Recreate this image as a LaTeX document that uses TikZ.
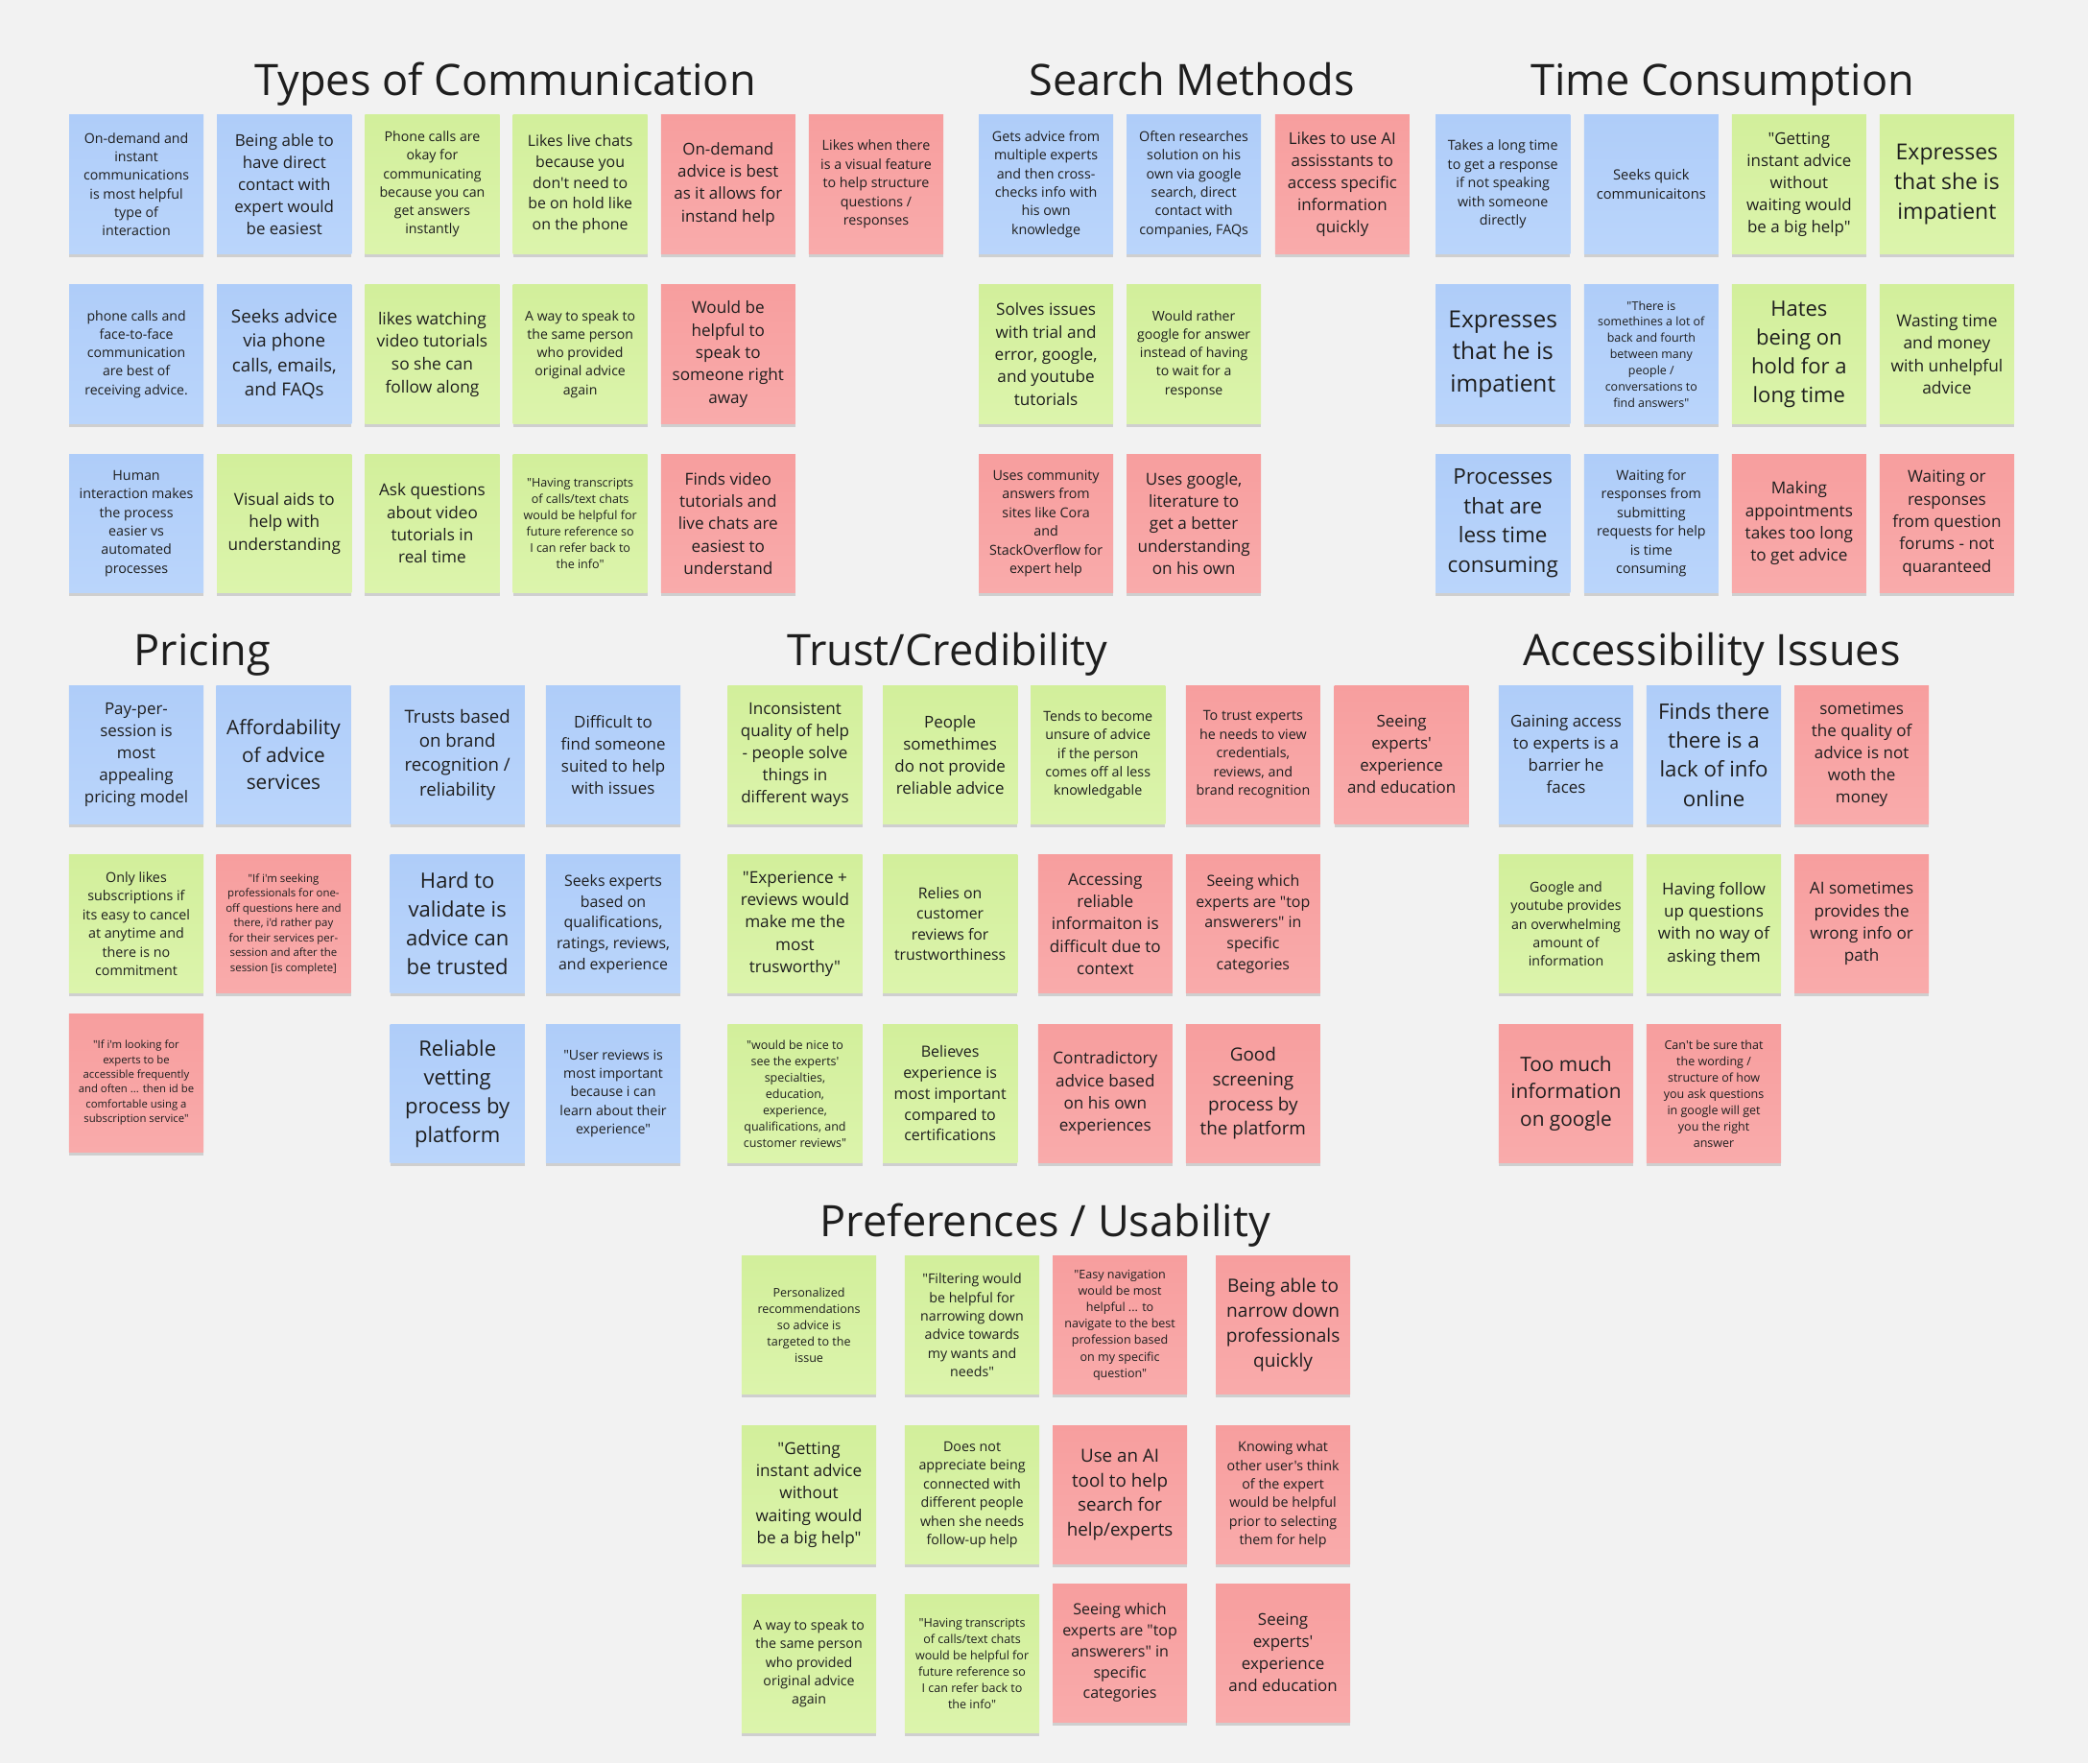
\documentclass[tikz,border=0pt]{standalone}
\usepackage{fontspec}
\newfontfamily\miro{Open Sans}
\usetikzlibrary{shadows}

\definecolor{board}{HTML}{F2F2F2}
\definecolor{ink}{HTML}{1E1E1E}
\definecolor{blueT}{HTML}{AFCDF9}
\definecolor{blueB}{HTML}{BAD5FB}
\definecolor{greenT}{HTML}{D2EF9B}
\definecolor{greenB}{HTML}{DCF4AC}
\definecolor{pinkT}{HTML}{F79E9E}
\definecolor{pinkB}{HTML}{F9ABAB}

% font of a sticky note, given its line pitch
\newcommand\notefont[1]{\miro\pgfmathsetmacro\notesize{#1/1.36}\fontsize{\notesize pt}{#1pt}\selectfont}

\tikzset{
  note/.style 2 args={minimum width=101pt, minimum height=104pt, inner sep=0pt, align=center,
    text=ink, font=\notefont{#1}, top color=#2T, bottom color=#2B,
    drop shadow={shadow xshift=0pt, shadow yshift=-2.5pt, opacity=.14, fill=black}},
  head/.style={font=\miro\fontsize{32.5pt}{40pt}\selectfont, text=ink, inner sep=0pt, anchor=base}
}

\begin{document}
\begin{tikzpicture}[x=1pt,y=-1pt]
        % the board
        \fill[board] (0,0) rectangle (1568,1324);
        \useasboundingbox (0,0) rectangle (1568,1324);

        % Headings
        \node[head] (hcomm) at (379.5,71.5) {Types of Communication};
        \node[head] (hsearch) at (895,71.5) {Search Methods};
        \node[head] (htime) at (1293.5,71.5) {Time Consumption};
        \node[head] (hprice) at (152,499.5) {Pricing};
        \node[head] (htrust) at (711.5,499.5) {Trust/Credibility};
        \node[head] (haccess) at (1285.5,499.5) {Accessibility Issues};
        \node[head] (hpref) at (785,928.5) {Preferences / Usability};

        % Types of Communication
        \foreach \x/\clr/\lh/\txt [count=\n] in {
          102.4/blue/13.9/{On-demand and\\instant\\communications\\is most helpful\\type of\\interaction},
          213.5/blue/16.6/{Being able to\\have direct\\contact with\\expert would\\be easiest},
          324.6/green/13.9/{Phone calls are\\okay for\\communicating\\because you can\\get answers\\instantly},
          435.7/green/15.6/{Likes live chats\\because you\\don't need to\\be on hold like\\on the phone},
          546.8/pink/16.6/{On-demand\\advice is best\\as it allows for\\instand help},
          657.9/pink/14.0/{Likes when there\\is a visual feature\\to help structure\\questions /\\responses}}
          \node[note={\lh}{\clr}] (comm-a\n) at (\x,138.4) {\txt};
        \foreach \x/\clr/\lh/\txt [count=\n] in {
          102.4/blue/13.8/{phone calls and\\face-to-face\\communication\\are best of\\receiving advice.},
          213.5/blue/18.4/{Seeks advice\\via phone\\calls, emails,\\and FAQs},
          324.6/green/17.0/{likes watching\\video tutorials\\so she can\\follow along},
          435.7/green/13.8/{A way to speak to\\the same person\\who provided\\original advice\\again},
          546.8/pink/16.8/{Would be\\helpful to\\speak to\\someone right\\away}}
          \node[note={\lh}{\clr}] (comm-b\n) at (\x,266) {\txt};
        \foreach \x/\clr/\lh/\txt [count=\n] in {
          102.4/blue/14.0/{Human\\interaction makes\\the process\\easier vs\\automated\\processes},
          213.5/green/16.8/{Visual aids to\\help with\\understanding},
          324.6/green/16.8/{Ask questions\\about video\\tutorials in\\real time},
          435.7/green/12.3/{"Having transcripts\\of calls/text chats\\would be helpful for\\future reference so\\I can refer back to\\the info"},
          546.8/pink/16.8/{Finds video\\tutorials and\\live chats are\\easiest to\\understand}}
          \node[note={\lh}{\clr}] (comm-c\n) at (\x,393) {\txt};

        % Search Methods
        \foreach \x/\clr/\lh/\txt [count=\n] in {
          785.5/blue/14.0/{Gets advice from\\multiple experts\\and then cross-\\checks info with\\his own\\knowledge},
          896.5/blue/14.0/{Often researches\\solution on his\\own via google\\search, direct\\contact with\\companies, FAQs},
          1008/pink/16.6/{Likes to use AI\\assisstants to\\access specific\\information\\quickly}}
          \node[note={\lh}{\clr}] (search-a\n) at (\x,138.4) {\txt};
        \foreach \x/\clr/\lh/\txt [count=\n] in {
          785.5/green/16.8/{Solves issues\\with trial and\\error, google,\\and youtube\\tutorials},
          896.5/green/13.8/{Would rather\\google for answer\\instead of having\\to wait for a\\response}}
          \node[note={\lh}{\clr}] (search-b\n) at (\x,266) {\txt};
        \foreach \x/\clr/\lh/\txt [count=\n] in {
          785.5/pink/14.0/{Uses community\\answers from\\sites like Cora\\and\\StackOverflow for\\expert help},
          896.5/pink/16.8/{Uses google,\\literature to\\get a better\\understanding\\on his own}}
          \node[note={\lh}{\clr}] (search-c\n) at (\x,393) {\txt};

        % Time Consumption
        \foreach \x/\clr/\lh/\txt [count=\n] in {
          1128.6/blue/14.0/{Takes a long time\\to get a response\\if not speaking\\with someone\\directly},
          1240/blue/14.4/{Seeks quick\\communicaitons},
          1351/green/16.6/{"Getting\\instant advice\\without\\waiting would\\be a big help"},
          1462/green/22.5/{Expresses\\that she is\\impatient}}
          \node[note={\lh}{\clr}] (time-a\n) at (\x,138.4) {\txt};
        \foreach \x/\clr/\lh/\txt [count=\n] in {
          1128.6/blue/24/{Expresses\\that he is\\impatient},
          1240/blue/12.2/{"There is\\somethines a lot of\\back and fourth\\between many\\people /\\conversations to\\find answers"},
          1351/green/21.6/{Hates\\being on\\hold for a\\long time},
          1462/green/17.0/{Wasting time\\and money\\with unhelpful\\advice}}
          \node[note={\lh}{\clr}] (time-b\n) at (\x,266) {\txt};
        \foreach \x/\clr/\lh/\txt [count=\n] in {
          1128.6/blue/22/{Processes\\that are\\less time\\consuming},
          1240/blue/14.0/{Waiting for\\responses from\\submitting\\requests for help\\is time\\consuming},
          1351/pink/16.8/{Making\\appointments\\takes too long\\to get advice},
          1462/pink/16.8/{Waiting or\\responses\\from question\\forums - not\\quaranteed}}
          \node[note={\lh}{\clr}] (time-c\n) at (\x,393) {\txt};

        % Pricing
        \foreach \x/\y/\clr/\lh/\txt [count=\n] in {
          102.3/566.6/blue/16.6/{Pay-per-\\session is\\most\\appealing\\pricing model},
          212.9/566.6/blue/20.4/{Affordability\\of advice\\services},
          102.3/693.7/green/14.0/{Only likes\\subscriptions if\\its easy to cancel\\at anytime and\\there is no\\commitment},
          212.9/693.7/pink/11.2/{"If i'm seeking\\professionals for one-\\off questions here and\\there, i'd rather pay\\for their services per-\\session and after the\\session [is complete]},
          102.3/813/pink/11.1/{"If i'm looking for\\experts to be\\accessible frequently\\and often ... then id be\\comfortable using a\\subscription service"}}
          \node[note={\lh}{\clr}] (price-\n) at (\x,\y) {\txt};

        % Trust/Credibility
        \foreach \x/\clr/\lh/\txt [count=\n] in {
          343.5/blue/18.3/{Trusts based\\on brand\\recognition /\\reliability},
          460.5/blue/16.6/{Difficult to\\find someone\\suited to help\\with issues},
          597/green/16.7/{Inconsistent\\quality of help\\- people solve\\things in\\different ways},
          713.5/green/16.6/{People\\somethimes\\do not provide\\reliable advice},
          824.5/green/14.0/{Tends to become\\unsure of advice\\if the person\\comes off al less\\knowledgable},
          941/pink/14.0/{To trust experts\\he needs to view\\credentials,\\reviews, and\\brand recognition},
          1052.5/pink/16.6/{Seeing\\experts'\\experience\\and education}}
          \node[note={\lh}{\clr}] (trust-a\n) at (\x,566.6) {\txt};
        \foreach \x/\clr/\lh/\txt [count=\n] in {
          343.5/blue/21.6/{Hard to\\validate is\\advice can\\be trusted},
          460.5/blue/15.6/{Seeks experts\\based on\\qualifications,\\ratings, reviews,\\and experience},
          597/green/16.8/{"Experience +\\reviews would\\make me the\\most\\trusworthy"},
          713.5/green/15.5/{Relies on\\customer\\reviews for\\trustworthiness},
          830/pink/16.8/{Accessing\\reliable\\informaiton is\\difficult due to\\context},
          941/pink/15.6/{Seeing which\\experts are "top\\answerers" in\\specific\\categories}}
          \node[note={\lh}{\clr}] (trust-b\n) at (\x,693.7) {\txt};
        \foreach \x/\clr/\lh/\txt [count=\n] in {
          343.5/blue/21.6/{Reliable\\vetting\\process by\\platform},
          460.5/blue/13.9/{"User reviews is\\most important\\because i can\\learn about their\\experience"},
          597/green/12.25/{"would be nice to\\see the experts'\\specialties,\\education,\\experience,\\qualifications, and\\customer reviews"},
          713.5/green/15.7/{Believes\\experience is\\most important\\compared to\\certifications},
          830/pink/16.8/{Contradictory\\advice based\\on his own\\experiences},
          941/pink/18.5/{Good\\screening\\process by\\the platform}}
          \node[note={\lh}{\clr}] (trust-c\n) at (\x,821) {\txt};

        % Accessibility Issues
        \foreach \x/\clr/\lh/\txt [count=\n] in {
          1176/blue/16.6/{Gaining access\\to experts is a\\barrier he\\faces},
          1287/blue/21.8/{Finds there\\there is a\\lack of info\\online},
          1398/pink/16.7/{sometimes\\the quality of\\advice is not\\woth the\\money}}
          \node[note={\lh}{\clr}] (access-a\n) at (\x,566.6) {\txt};
        \foreach \x/\clr/\lh/\txt [count=\n] in {
          1176/green/13.9/{Google and\\youtube provides\\an overwhelming\\amount of\\information},
          1287/green/16.8/{Having follow\\up questions\\with no way of\\asking them},
          1398/pink/16.8/{AI sometimes\\provides the\\wrong info or\\path}}
          \node[note={\lh}{\clr}] (access-b\n) at (\x,693.7) {\txt};
        \foreach \x/\clr/\lh/\txt [count=\n] in {
          1176/pink/20.4/{Too much\\information\\on google},
          1287/pink/12.25/{Can't be sure that\\the wording /\\structure of how\\you ask questions\\in google will get\\you the right\\answer}}
          \node[note={\lh}{\clr}] (access-c\n) at (\x,821) {\txt};

        % Preferences / Usability
        \foreach \x/\clr/\lh/\txt [count=\n] in {
          607.5/green/12.3/{Personalized\\recommendations\\so advice is\\targeted to the\\issue},
          730/green/13.9/{"Filtering would\\be helpful for\\narrowing down\\advice towards\\my wants and\\needs"},
          841/pink/12.3/{"Easy navigation\\would be most\\helpful ... to\\navigate to the best\\profession based\\on my specific\\question"},
          963.5/pink/18.7/{Being able to\\narrow down\\professionals\\quickly}}
          \node[note={\lh}{\clr}] (pref-a\n) at (\x,995) {\txt};
        \foreach \x/\clr/\lh/\txt [count=\n] in {
          607.5/green/16.8/{"Getting\\instant advice\\without\\waiting would\\be a big help"},
          730/green/14.0/{Does not\\appreciate being\\connected with\\different people\\when she needs\\follow-up help},
          841/pink/18.4/{Use an AI\\tool to help\\search for\\help/experts},
          963.5/pink/14.0/{Knowing what\\other user's think\\of the expert\\would be helpful\\prior to selecting\\them for help}}
          \node[note={\lh}{\clr}] (pref-b\n) at (\x,1122.3) {\txt};
        \foreach \x/\y/\clr/\lh/\txt [count=\n] in {
          607.5/1249/green/13.9/{A way to speak to\\the same person\\who provided\\original advice\\again},
          730/1249/green/12.3/{"Having transcripts\\of calls/text chats\\would be helpful for\\future reference so\\I can refer back to\\the info"},
          841/1241/pink/15.7/{Seeing which\\experts are "top\\answerers" in\\specific\\categories},
          963.5/1241/pink/16.6/{Seeing\\experts'\\experience\\and education}}
          \node[note={\lh}{\clr}] (pref-c\n) at (\x,\y) {\txt};
\end{tikzpicture}
\end{document}
